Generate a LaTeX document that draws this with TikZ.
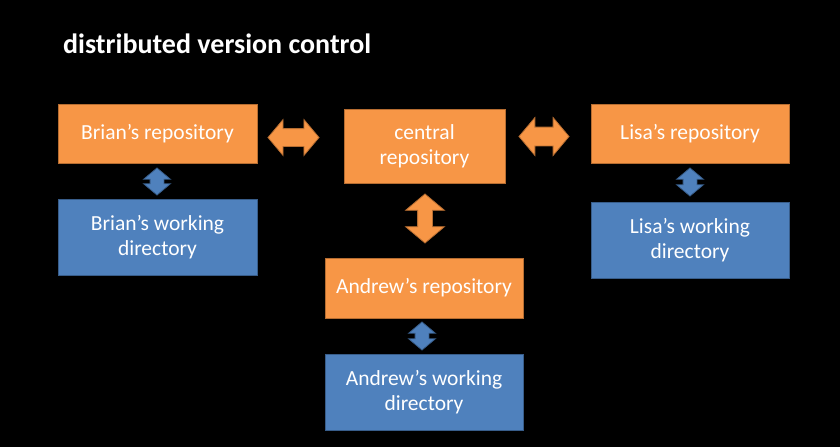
\documentclass[tikz,border=0pt]{standalone}
\usepackage{fontspec}
\setmainfont{Carlito}
\usetikzlibrary{shapes.arrows}
\definecolor{orfill}{HTML}{F79646}
\definecolor{ordraw}{HTML}{B66D31}
\definecolor{blfill}{HTML}{4F81BD}
\definecolor{bldraw}{HTML}{385D8A}
\tikzset{
  box/.style={draw, line width=1pt, inner sep=0pt, align=center, text=white,
    font=\fontsize{21.5}{25}\selectfont},
  repo/.style={box, fill=orfill, draw=ordraw},
  wdir/.style={box, fill=blfill, draw=bldraw},
  darr/.style={shape=double arrow, draw, line width=0.8pt, inner xsep=0pt,
    double arrow tip angle=100},
  oarr/.style={darr, fill=orfill, draw=ordraw},
  barr/.style={darr, fill=blfill, draw=bldraw},
}
\begin{document}
\begin{tikzpicture}[x=1pt,y=-1pt]
\fill[black] (0,0) rectangle (840,447);
\useasboundingbox (0,0) rectangle (840,447);
\node[anchor=base west, inner sep=0pt, text=white, font=\fontsize{28}{32}\selectfont\bfseries] (title) at (63,53) {distributed version control};

\node[repo, minimum width=199pt, minimum height=59pt] (brian) at (157.5,133.5) {Brian’s repository};
\node[wdir, minimum width=199pt, minimum height=76pt] (brianwd) at (157.5,237) {Brian’s working\\directory};
\node[repo, minimum width=161pt, minimum height=74pt] (central) at (424.5,146) {central\\repository};
\node[repo, minimum width=198pt, minimum height=59pt] (lisa) at (690,133.5) {Lisa’s repository};
\node[wdir, minimum width=198pt, minimum height=76pt] (lisawd) at (690,240) {Lisa’s working\\directory};
\node[repo, minimum width=198pt, minimum height=60pt] (andrew) at (424,288) {Andrew’s repository};
\node[wdir, minimum width=198pt, minimum height=76pt] (andrewwd) at (424,392) {Andrew’s working\\directory};

\node[barr, rotate=90, minimum height=27pt, inner ysep=6.5pt, double arrow head extend=6.5pt] (a1) at (157,181.5) {};
\node[oarr, minimum height=51pt, inner ysep=8.5pt, double arrow head extend=9pt] (a2) at (293.5,137.5) {};
\node[oarr, minimum height=50pt, inner ysep=9pt, double arrow head extend=9.5pt] (a3) at (544,136.5) {};
\node[oarr, rotate=90, minimum height=49pt, inner ysep=7pt, double arrow head extend=12pt] (a4) at (425,218.5) {};
\node[barr, rotate=90, minimum height=28pt, inner ysep=6.5pt, double arrow head extend=6.5pt] (a5) at (690,182) {};
\node[barr, rotate=90, minimum height=28pt, inner ysep=6.5pt, double arrow head extend=6.5pt] (a6) at (422,336) {};
\end{tikzpicture}
\end{document}
